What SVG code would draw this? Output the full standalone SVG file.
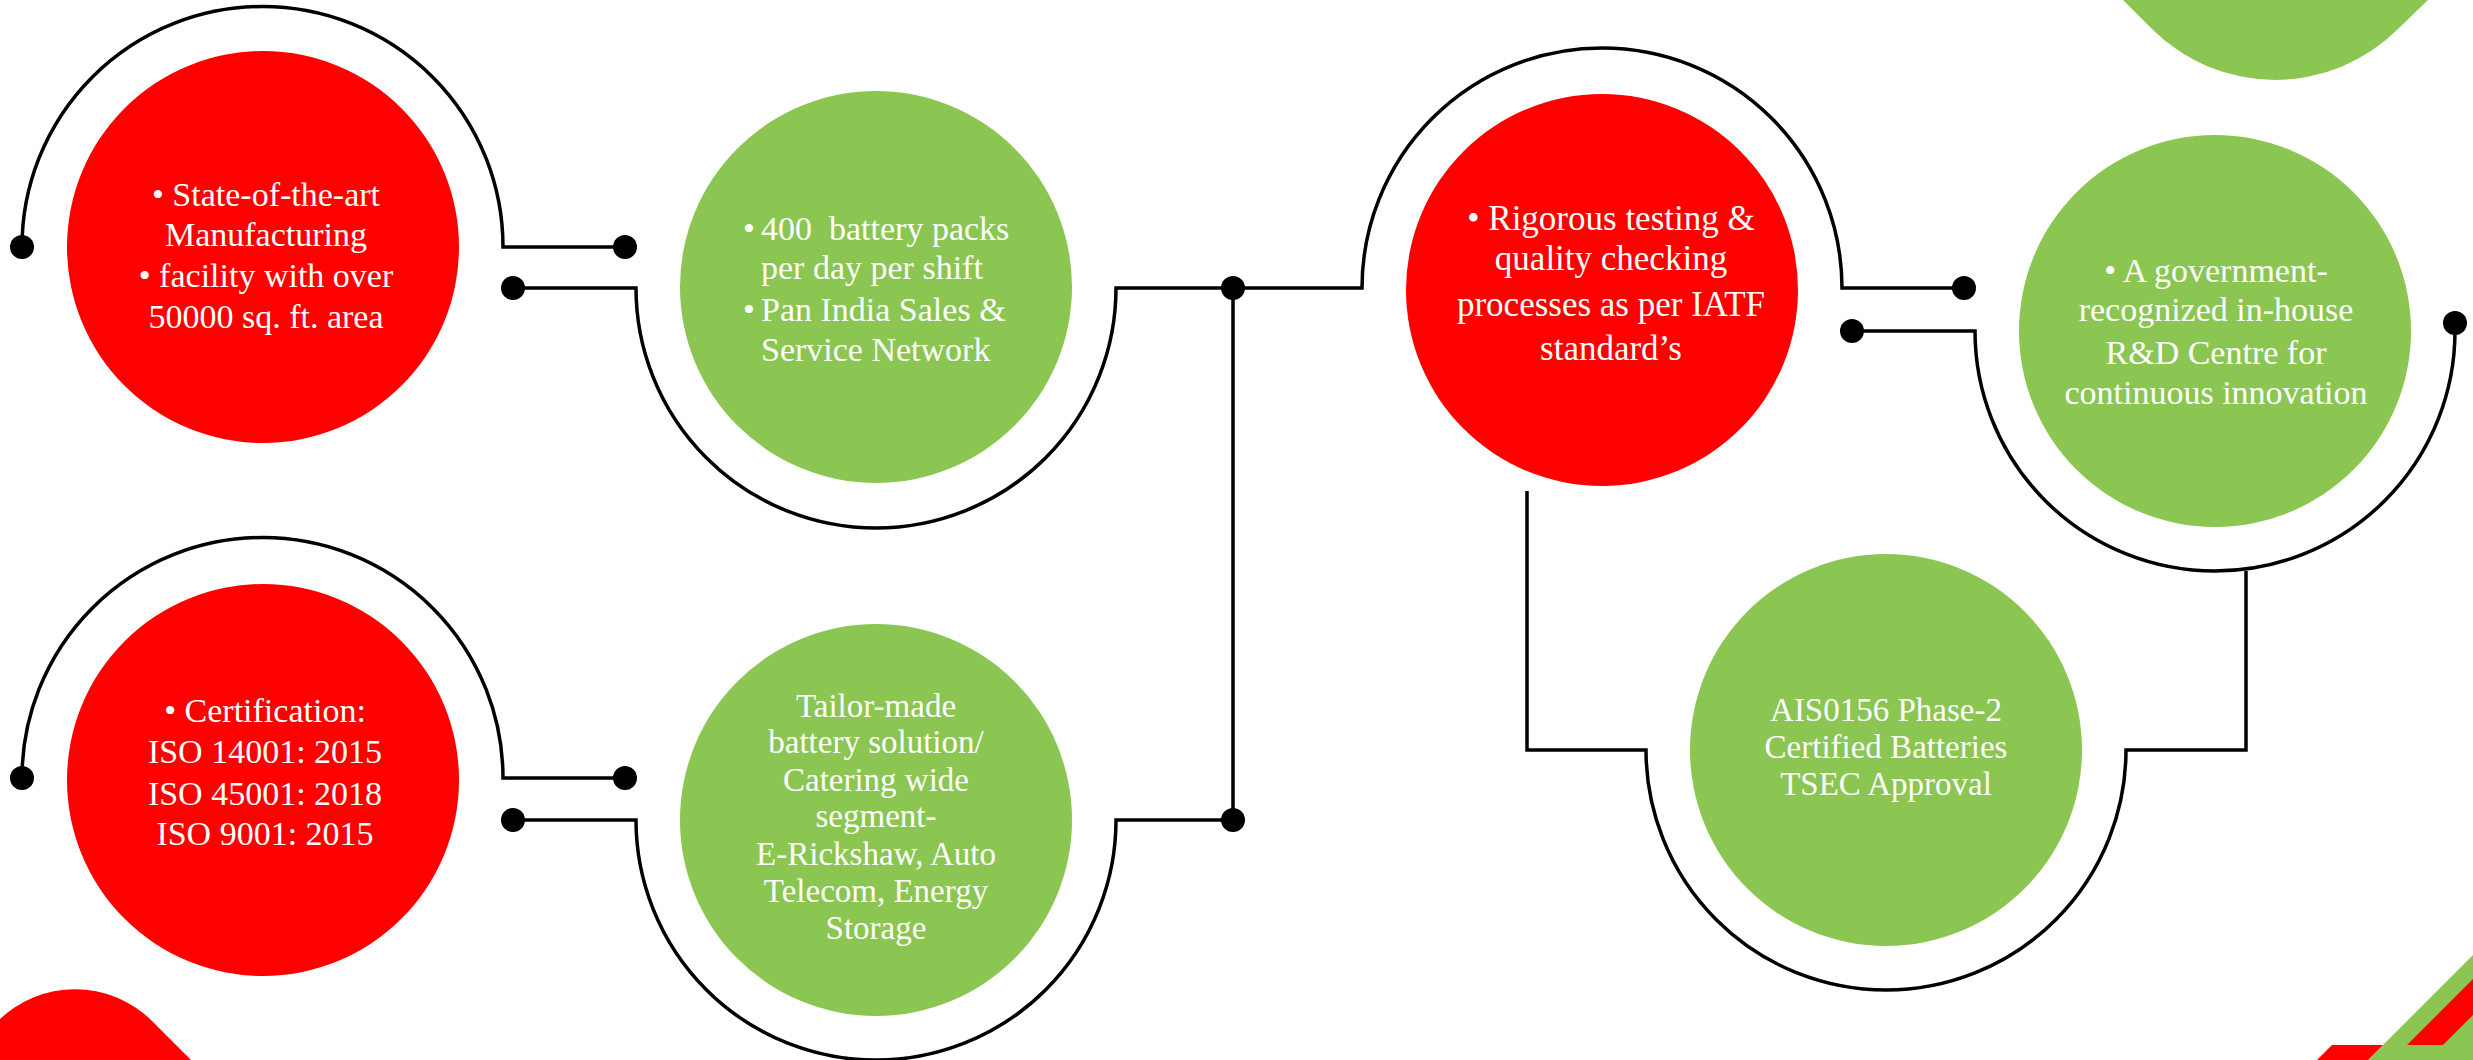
<svg xmlns="http://www.w3.org/2000/svg" width="2473" height="1060" viewBox="0 0 2473 1060">
<style>
.red{fill:#FF0000}
.green{fill:#8BC653}
.t{font-family:"Liberation Serif","Times New Roman",serif;fill:#FFFFFF;text-anchor:middle}
.tl{font-family:"Liberation Serif","Times New Roman",serif;fill:#FFFFFF;text-anchor:start}
.wire{fill:none;stroke:#000;stroke-width:3.5;stroke-linejoin:miter}
.dot{fill:#000}
</style>
<rect width="2473" height="1060" fill="#FFFFFF"/>
<g id="decor">
<path class="green" d="M 2123,0 L 2152,29 A 174 174 0 0 0 2398,29 L 2428,0 Z"/>
<path class="red" d="M -2,1021 A 109 109 0 0 1 152,1021 L 191,1060 L -2,1060 Z"/>
<polygon class="green" points="2473,955 2368,1060 2473,1060"/>
<polygon class="red" points="2473,979 2407,1045 2443,1045 2473,1015"/>
<polygon class="red" points="2317,1060 2332,1045 2383,1045 2368,1060"/>
</g>
<g id="connectors">
<path class="wire" d="M 22,247 A 240 240 0 0 1 503,247 L 625,247"/>
<path class="wire" d="M 513,288 L 636,288 A 240 240 0 0 0 1116,288 L 1362,288 A 240 240 0 0 1 1842,288 L 1964,288"/>
<path class="wire" d="M 22,778 A 240 240 0 0 1 503,778 L 625,778"/>
<path class="wire" d="M 513,820 L 636,820 A 240 240 0 0 0 1116,820 L 1233,820"/>
<path class="wire" d="M 1233,288 L 1233,820"/>
<path class="wire" d="M 1852,331 L 1975,331 A 240 240 0 0 0 2455,331 L 2455,323"/>
<path class="wire" d="M 2246,571 L 2246,750 L 2126,750 A 240 240 0 0 1 1646,750 L 1527,750 L 1527,491"/>
<circle class="dot" cx="22" cy="247" r="12"/>
<circle class="dot" cx="625" cy="247" r="12"/>
<circle class="dot" cx="513" cy="288" r="12"/>
<circle class="dot" cx="1233" cy="288" r="12"/>
<circle class="dot" cx="1964" cy="288" r="12"/>
<circle class="dot" cx="22" cy="778" r="12"/>
<circle class="dot" cx="625" cy="778" r="12"/>
<circle class="dot" cx="513" cy="820" r="12"/>
<circle class="dot" cx="1233" cy="820" r="12"/>
<circle class="dot" cx="1852" cy="331" r="12"/>
<circle class="dot" cx="2455" cy="323" r="12"/>
</g>
<g id="node-manufacturing">
<circle class="red" cx="263" cy="247" r="196"/>
<text class="t" font-size="34"><tspan x="266" y="206">• State-of-the-art</tspan><tspan x="266" y="246">Manufacturing</tspan><tspan x="266" y="287">• facility with over</tspan><tspan x="266" y="328">50000 sq. ft. area</tspan></text>
</g>
<g id="node-certification">
<circle class="red" cx="263" cy="780" r="196"/>
<text class="t" font-size="34"><tspan x="265" y="722">• Certification:</tspan><tspan x="265" y="763">ISO 14001: 2015</tspan><tspan x="265" y="805">ISO 45001: 2018</tspan><tspan x="265" y="845">ISO 9001: 2015</tspan></text>
</g>
<g id="node-capacity">
<circle class="green" cx="876" cy="287" r="196"/>
<text class="tl" font-size="34"><tspan x="743" y="240">•</tspan><tspan x="743" y="321">•</tspan></text>
<text class="tl" font-size="34" xml:space="preserve"><tspan x="761" y="240">400  battery packs</tspan><tspan x="761" y="279">per day per shift</tspan><tspan x="761" y="321">Pan India Sales &amp;</tspan><tspan x="761" y="361">Service Network</tspan></text>
</g>
<g id="node-tailor">
<circle class="green" cx="876" cy="820" r="196"/>
<text class="t" font-size="33"><tspan x="876" y="717">Tailor-made</tspan><tspan x="876" y="753">battery solution/</tspan><tspan x="876" y="791">Catering wide</tspan><tspan x="876" y="827">segment-</tspan><tspan x="876" y="865">E-Rickshaw, Auto</tspan><tspan x="876" y="902">Telecom, Energy</tspan><tspan x="876" y="939">Storage</tspan></text>
</g>
<g id="node-testing">
<circle class="red" cx="1602" cy="290" r="196"/>
<text class="t" font-size="35"><tspan x="1611" y="230">• Rigorous testing &amp;</tspan><tspan x="1611" y="270">quality checking</tspan><tspan x="1611" y="316">processes as per IATF</tspan><tspan x="1611" y="360">standard’s</tspan></text>
</g>
<g id="node-rnd">
<circle class="green" cx="2215" cy="331" r="196"/>
<text class="t" font-size="34"><tspan x="2216" y="282">• A government-</tspan><tspan x="2216" y="321">recognized in-house</tspan><tspan x="2216" y="364">R&amp;D Centre for</tspan><tspan x="2216" y="404">continuous innovation</tspan></text>
</g>
<g id="node-ais">
<circle class="green" cx="1886" cy="750" r="196"/>
<text class="t" font-size="33"><tspan x="1886" y="721">AIS0156 Phase-2</tspan><tspan x="1886" y="758">Certified Batteries</tspan><tspan x="1886" y="795">TSEC Approval</tspan></text>
</g>
</svg>
